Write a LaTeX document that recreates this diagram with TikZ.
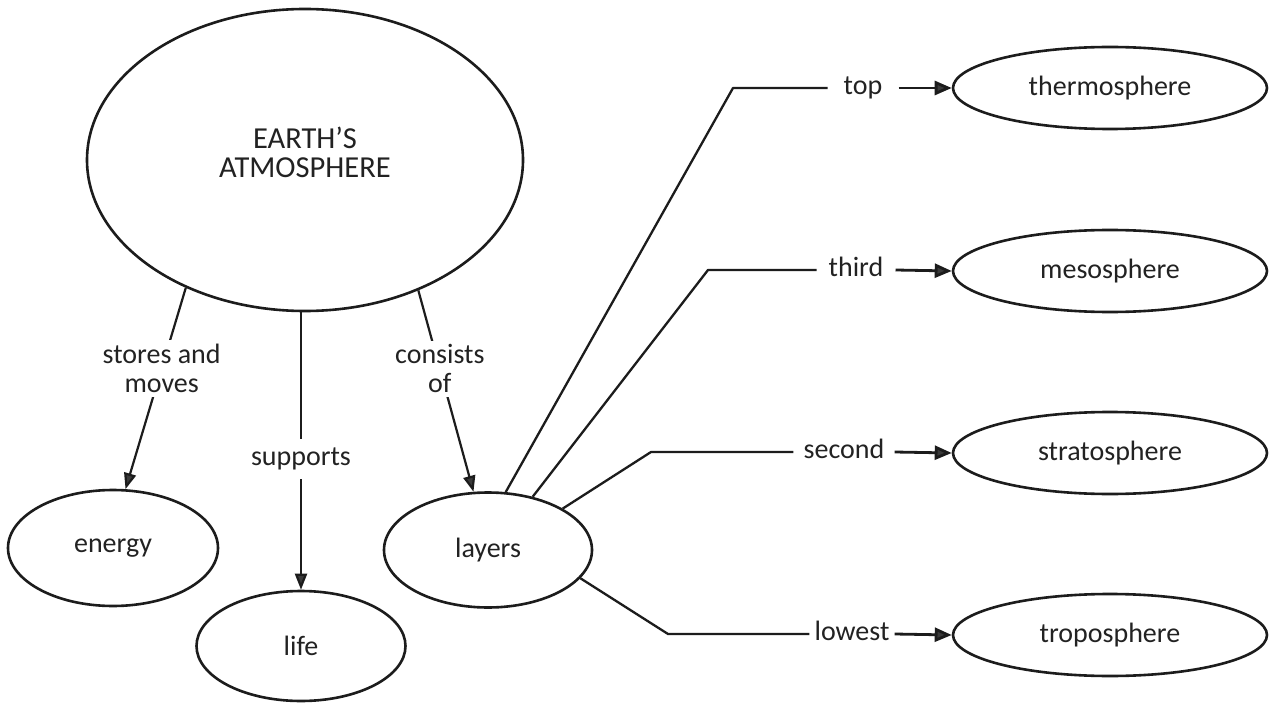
\documentclass[tikz,border=0pt]{standalone}
\usepackage{fontspec}
\setmainfont{Carlito}
\usetikzlibrary{shapes.geometric,arrows.meta}
\definecolor{ink}{HTML}{1C1C1C}
\definecolor{headc}{HTML}{3A3A3A}
\definecolor{txt}{HTML}{222222}
\begin{document}
\begin{tikzpicture}[x=1pt,y=-1pt,
  bubble/.style={draw=ink, line width=2.6pt, ellipse, inner sep=0pt, text=txt,
    font=\fontsize{28}{29}\selectfont, align=center},
  rbub/.style={bubble, minimum width=314pt, minimum height=82pt},
  lbl/.style={fill=white, text=txt, inner sep=4pt, align=center,
    font=\fontsize{28}{29}\selectfont},
  slbl/.style={text=txt, inner ysep=0pt, text height=13pt, text depth=0pt,
    font=\fontsize{28}{29}\selectfont},
  conn/.style={draw=ink, line width=2.3pt, line join=round},
  arr/.style={draw=ink, line width=2.2pt,
    -{Triangle[length=16pt,width=12pt,fill=headc]}},
  rarr/.style={draw=ink, line width=2.8pt,
    -{Triangle[length=17pt,width=14pt,fill=headc]}}]
\useasboundingbox (0,0) rectangle (1271,703);
\fill[white] (0,0) rectangle (1271,703);

% concepts
\node[bubble, minimum width=436pt, minimum height=302pt,
  font=\fontsize{30.5}{29}\selectfont, text depth=15pt] (atm) at (305,160) {EARTH'S\\ATMOSPHERE};
\node[bubble, minimum width=210pt, minimum height=116pt] (energy) at (113,548) {energy};
\node[bubble, minimum width=209pt, minimum height=110pt] (life) at (301,646) {life};
\node[bubble, minimum width=208pt, minimum height=115pt] (layers) at (488,550) {layers};
\node[rbub] (thermo) at (1110,88) {thermosphere};
\node[rbub] (meso) at (1110,271) {mesosphere};
\node[rbub] (strato) at (1110,453) {stratosphere};
\node[rbub] (tropo) at (1110,635) {troposphere};

% left links
\draw[arr] (atm.227) -- node[lbl, pos=0.40] {stores and\\moves} (energy.78);
\draw[arr] (life.north |- atm.south) -- node[lbl, pos=0.53, inner ysep=9pt] {supports} (life.north);
\draw[arr] (atm.311) -- node[lbl, pos=0.39] {consists\\of} (layers.104);

% layer labels
\node[slbl, inner xsep=16pt] (lT) at (863,88) {top};
\node[slbl, inner xsep=12pt] (lM) at (856,270) {third};
\node[slbl, inner xsep=10pt] (lS) at (844,452) {second};
\node[slbl, inner xsep=5pt] (lL) at (852,634) {lowest};

\coordinate (bT) at (733,88);
\coordinate (bM) at (708,270);
\coordinate (bS) at (651,452);
\coordinate (bL) at (668,634);

\draw[conn] (layers.73) -- (bT) -- (lT.west);
\draw[conn] (layers.50) -- (bM) -- (lM.west);
\draw[conn] (layers.29) -- (bS) -- (lS.west);
\draw[conn] (layers.-17) -- (bL) -- (lL.west);

\draw[rarr] (lT.east) -- (thermo.west);
\draw[rarr] (lM.east) -- (meso.west);
\draw[rarr] (lS.east) -- (strato.west);
\draw[rarr] (lL.east) -- (tropo.west);
\end{tikzpicture}
\end{document}
